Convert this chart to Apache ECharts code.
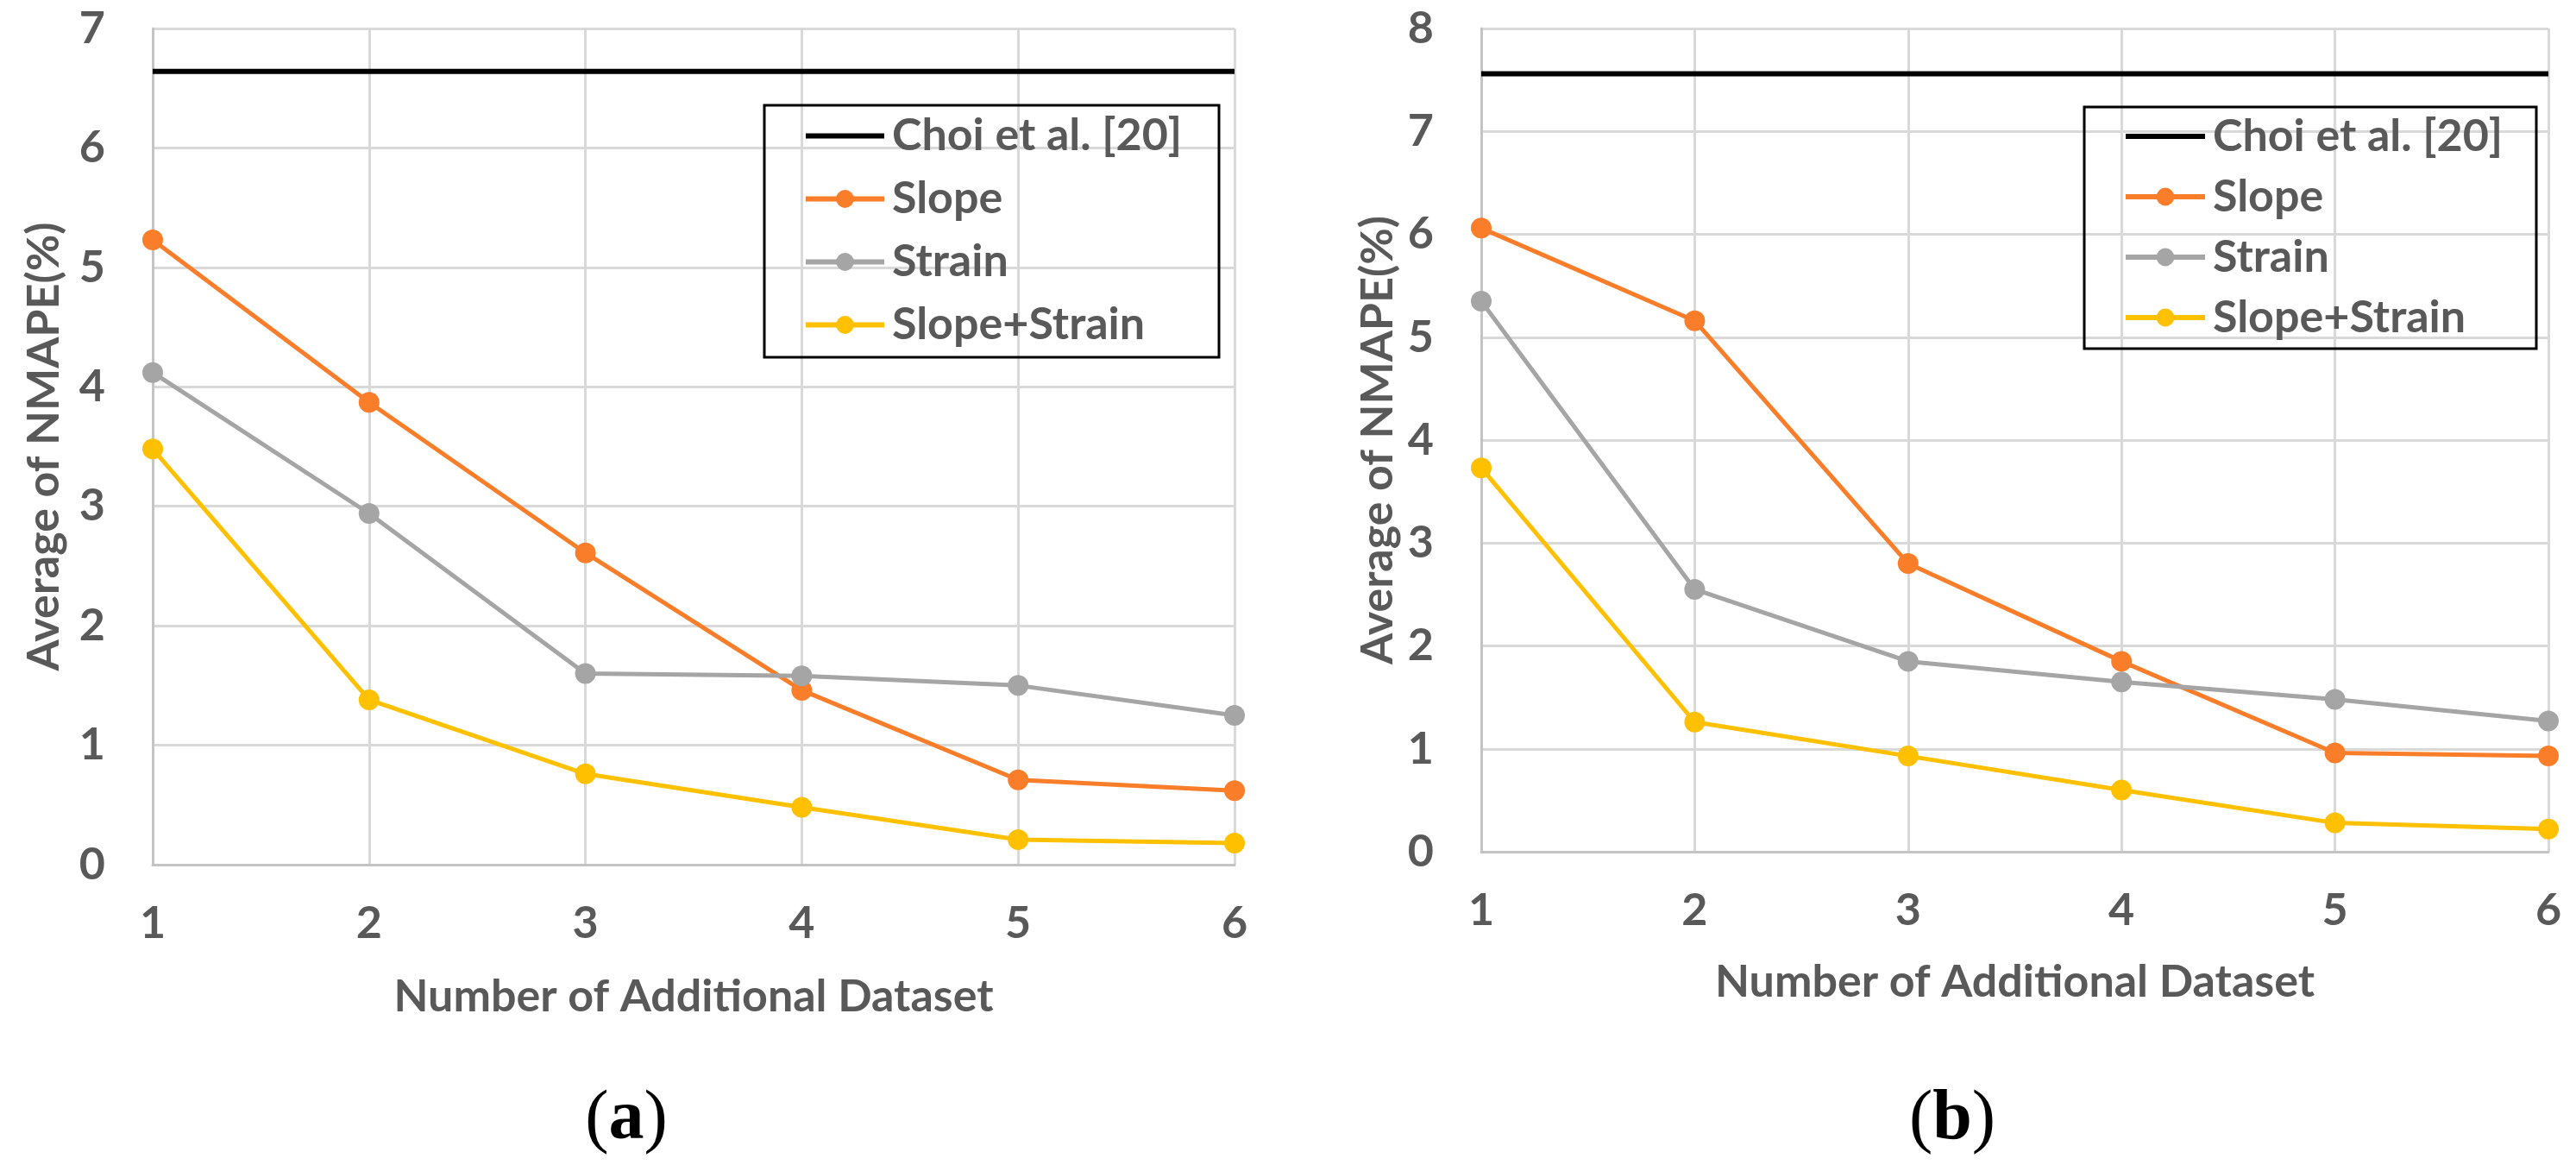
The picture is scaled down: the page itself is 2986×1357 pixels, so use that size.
<!DOCTYPE html>
<html>
<head>
<meta charset="utf-8">
<script src="https://cdn.jsdelivr.net/npm/echarts@6/dist/echarts.min.js"></script>
<style>
html,body{margin:0;padding:0;background:#fff;}
#chart{width:2986px;height:1357px;}
</style>
</head>
<body>
<div id="chart"></div>
<script>
// ---- data ----
const categories = ['1', '2', '3', '4', '5', '6'];
const seriesNames = ['Choi et al. [20]', 'Slope', 'Strain', 'Slope+Strain'];
const xAxisTitle = 'Number of Additional Dataset';
const yAxisTitle = 'Average of NMAPE(%)';
const captions = ['a', 'b'];

// chart (a)
const yMaxA = 7;
const choiA = [6.64, 6.64, 6.64, 6.64, 6.64, 6.64];
const slopeA = [5.23, 3.87, 2.61, 1.46, 0.71, 0.62];
const strainA = [4.12, 2.94, 1.60, 1.58, 1.50, 1.25];
const slopeStrainA = [3.48, 1.38, 0.76, 0.48, 0.21, 0.18];

// chart (b)
const yMaxB = 8;
const choiB = [7.56, 7.56, 7.56, 7.56, 7.56, 7.56];
const slopeB = [6.06, 5.16, 2.80, 1.85, 0.96, 0.93];
const strainB = [5.35, 2.55, 1.85, 1.65, 1.48, 1.27];
const slopeStrainB = [3.73, 1.26, 0.93, 0.60, 0.28, 0.22];

// ---- styles ----
const colors = ['#000000', '#FA7D2A', '#A5A5A5', '#FFC000'];
const txt = '#595959';
const FONT = 'Lato';
const FS = 52;

function xAxis(gridIndex, gap) {
  return {
    type: 'category', gridIndex, data: categories, boundaryGap: false,
    axisLine: {show: true, lineStyle: {color: '#C4C4C4', width: 3}},
    axisTick: {show: false},
    axisLabel: {color: txt, fontFamily: FONT, fontWeight: 'bold', fontSize: FS, lineHeight: FS, margin: 42},
    splitLine: {show: true, lineStyle: {color: '#D9D9D9', width: 3}},
    name: xAxisTitle, nameLocation: 'middle', nameGap: gap,
    nameTextStyle: {color: txt, fontFamily: FONT, fontWeight: 'bold', fontSize: FS, lineHeight: FS}
  };
}
function yAxis(gridIndex, max, gap) {
  return {
    type: 'value', gridIndex, min: 0, max: max, interval: 1,
    axisLine: {show: true, lineStyle: {color: '#C4C4C4', width: 3}},
    axisTick: {show: false},
    axisLabel: {color: txt, fontFamily: FONT, fontWeight: 'bold', fontSize: FS, margin: 55},
    splitLine: {show: true, lineStyle: {color: '#D9D9D9', width: 3}},
    name: yAxisTitle, nameLocation: 'middle', nameGap: gap, nameRotate: 90,
    nameTextStyle: {color: txt, fontFamily: FONT, fontWeight: 'bold', fontSize: FS, lineHeight: FS}
  };
}
function mkSeries(idx, data) {
  const out = [];
  data.forEach((d, i) => {
    const isRef = i === 0;
    out.push({
      name: seriesNames[i], type: 'line', xAxisIndex: idx, yAxisIndex: idx, data: d,
      symbol: isRef ? 'none' : 'circle', symbolSize: 24, showSymbol: !isRef,
      lineStyle: {color: colors[i], width: isRef ? 6 : 5},
      itemStyle: {color: colors[i]},
      emphasis: {disabled: true}, animation: false, z: 2 + i
    });
  });
  return out;
}
function legend(left, top, lh, iw) {
  return {
    orient: 'vertical', left, top, padding: 0, itemGap: 0,
    itemWidth: iw, itemHeight: 26, selectedMode: false,
    data: seriesNames.map((n, i) => i === 0
      ? {name: n, itemStyle: {opacity: 0}, lineStyle: {width: 6, color: colors[0], opacity: 1}}
      : {name: n, lineStyle: {width: 6, color: colors[i]}}),
    lineStyle: {width: 6},
    textStyle: {color: txt, fontFamily: FONT, fontWeight: 'bold', fontSize: FS, lineHeight: lh, padding: [0, 0, 0, 4]}
  };
}

const chart = echarts.init(document.getElementById('chart'), null, {renderer: 'canvas'});
chart.setOption({
  animation: false,
  backgroundColor: '#ffffff',
  grid: [
    {left: 177, top: 33, width: 1431 - 177, height: 1002 - 33},
    {left: 1717, top: 33, width: 2954 - 1717, height: 987 - 33}
  ],
  xAxis: [xAxis(0, 127), xAxis(1, 125)],
  yAxis: [yAxis(0, yMaxA, 100), yAxis(1, yMaxB, 94)],
  legend: [legend(931, 121, 73, 91), legend(2461, 123, 70, 92)],
  series: [].concat(
    mkSeries(0, [choiA, slopeA, strainA, slopeStrainA]),
    mkSeries(1, [choiB, slopeB, strainB, slopeStrainB])
  ),
  graphic: [
    {type: 'rect', shape: {x: 886, y: 122, width: 527, height: 292}, style: {fill: 'none', stroke: '#000', lineWidth: 3}, z: 10},
    {type: 'rect', shape: {x: 2416, y: 124, width: 524, height: 280}, style: {fill: 'none', stroke: '#000', lineWidth: 3}, z: 10},
    {type: 'text', x: 726, y: 1298, style: {text: '({b|' + captions[0] + '})', rich: {b: {fontWeight: 'bold', fontFamily: 'Liberation Serif', fontSize: 82, fill: '#000'}}, fontFamily: 'Liberation Serif', fontSize: 82, fill: '#000', align: 'center', verticalAlign: 'middle'}},
    {type: 'text', x: 2263, y: 1298, style: {text: '({b|' + captions[1] + '})', rich: {b: {fontWeight: 'bold', fontFamily: 'Liberation Serif', fontSize: 82, fill: '#000'}}, fontFamily: 'Liberation Serif', fontSize: 82, fill: '#000', align: 'center', verticalAlign: 'middle'}}
  ]
});
</script>
</body>
</html>
